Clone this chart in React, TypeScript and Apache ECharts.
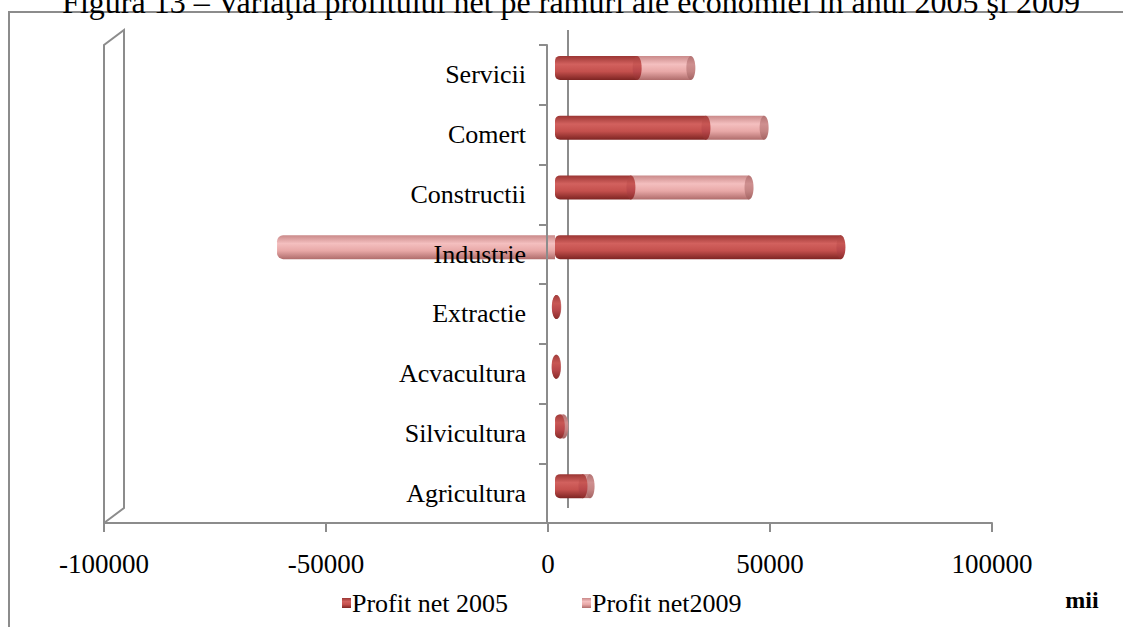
import React, { useEffect, useRef } from "react";
import * as echarts from "echarts";

const categories = ["Agricultura", "Silvicultura", "Acvacultura", "Extractie", "Industrie", "Constructii", "Comert", "Servicii"];
const profit2005 = [6300, 1200, 250, 300, 64400, 17100, 34000, 18500];
const profit2009 = [1600, 800, 100, 100, -62600, 26600, 13100, 12100];
const xTicks = { min: -100000, max: 100000, interval: 50000 };
const titleText = "Figura 13 – Variaţia profitului net pe ramuri ale economiei în anul 2005 şi 2009";
const unitText = "mii";

const SERIF = '"Liberation Serif", "Times New Roman", serif';
const GRAY = "#8c8c8c";

const grad = (stops: string[]) =>
  new echarts.graphic.LinearGradient(0, 0, 0, 1, [
    { offset: 0, color: stops[0] },
    { offset: 0.35, color: stops[1] },
    { offset: 0.65, color: stops[2] },
    { offset: 1, color: stops[3] },
  ]);

const g2005 = ["#9a3533", "#d2615e", "#c4504d", "#7e2523"];
const g2009 = ["#c98989", "#f4bfbf", "#e8a8a7", "#b06d6c"];

export default function App() {
  const ref = useRef<HTMLDivElement>(null);
  useEffect(() => {
    if (!ref.current) return;
    const chart = echarts.init(ref.current, undefined, { renderer: "svg" });

    const d2005 = profit2005.map((v) => ({
      value: v,
      itemStyle: { borderRadius: [5, 0, 0, 5] },
    }));
    const d2009 = profit2009.map((v) => ({
      value: v,
      itemStyle: { borderRadius: v < 0 ? [6, 0, 0, 6] : [0, 0, 0, 0] },
    }));
    // caps: [xEnd, catIndex, kind]
    const caps: number[][] = [];
    categories.forEach((_, i) => {
      const a = profit2005[i];
      const b = profit2009[i];
      if (b > 0) caps.push([a + b, i, 1]);
    });
    categories.forEach((_, i) => {
      caps.push([profit2005[i], i, 0]);
    });

    const gridBase = { containLabel: false, outerBoundsMode: "none" };

    chart.setOption({
      animation: false,
      grid: [
        { ...gridBase, left: 111, width: 888, top: 38, height: 478 },
        { ...gridBase, left: 104, width: 888, top: 45, height: 478 },
        { ...gridBase, left: 547, width: 100, top: 45, height: 478 },
      ],
      xAxis: [
        { gridIndex: 0, type: "value", ...xTicks, show: false },
        {
          gridIndex: 1,
          type: "value",
          ...xTicks,
          axisLine: { show: true, lineStyle: { color: GRAY, width: 2 } },
          axisTick: { show: true, length: 9, lineStyle: { color: GRAY, width: 2 } },
          splitLine: { show: false },
          axisLabel: {
            margin: 27,
            color: "#000",
            fontFamily: SERIF,
            fontSize: 27,
            formatter: (v: number) => String(v),
          },
        },
        { gridIndex: 2, type: "value", ...xTicks, show: false },
      ],
      yAxis: [
        { gridIndex: 0, type: "category", data: categories, show: false },
        { gridIndex: 1, type: "category", data: categories, show: false },
        {
          gridIndex: 2,
          type: "category",
          data: categories,
          z: 10,
          axisLine: { show: true, onZero: false, lineStyle: { color: GRAY, width: 2 } },
          axisTick: { show: true, length: 8, lineStyle: { color: GRAY, width: 2 } },
          axisLabel: { margin: 21, color: "#000", fontFamily: SERIF, fontSize: 26 },
        },
      ],
      legend: {
        data: ["Profit net 2005", "Profit net2009"],
        left: 337,
        top: 585,
        itemWidth: 9,
        itemHeight: 10,
        itemGap: 74,
        icon: "rect",
        textStyle: { fontFamily: SERIF, fontSize: 26, color: "#000", padding: [0, 0, 0, -4] },
      },
      series: [
        {
          name: "Profit net 2005",
          type: "bar",
          stack: "p",
          xAxisIndex: 0,
          yAxisIndex: 0,
          barWidth: 24,
          data: d2005,
          itemStyle: { color: grad(g2005) },
          z: 2,
        },
        {
          name: "Profit net2009",
          type: "bar",
          stack: "p",
          xAxisIndex: 0,
          yAxisIndex: 0,
          barWidth: 24,
          data: d2009,
          itemStyle: { color: grad(g2009) },
          z: 2,
        },
        {
          type: "custom",
          xAxisIndex: 0,
          yAxisIndex: 0,
          z: 3,
          data: caps,
          renderItem: (params: any, api: any) => {
            const p = api.coord([api.value(0), api.value(1)]);
            const kind = api.value(2);
            return {
              type: "ellipse",
              shape: { cx: p[0], cy: p[1], rx: 4.5, ry: 12 },
              style: {
                fill: kind === 0 ? grad(["#a23d3b", "#c85754", "#b8474a", "#8a2c2a"]) : grad(["#b37272", "#cf9090", "#c48483", "#a46463"]),
              },
            };
          },
        },
      ],
      graphic: [
        {
          type: "rect",
          shape: { x: 9, y: 12, width: 1130, height: 630 },
          style: { fill: "none", stroke: GRAY, lineWidth: 2 },
          silent: true,
        },
        {
          type: "text",
          x: 571,
          y: 18,
          style: {
            text: titleText,
            font: `32px ${SERIF}`,
            fill: "#000",
            textAlign: "center",
            textVerticalAlign: "bottom",
          },
        },
        {
          type: "polyline",
          shape: { points: [[104, 523], [104, 45], [124, 30], [124, 508], [104, 523]] },
          style: { fill: "none", stroke: GRAY, lineWidth: 2 },
        },
        {
          type: "line",
          shape: { x1: 568, y1: 30, x2: 568, y2: 508 },
          style: { stroke: GRAY, lineWidth: 2 },
        },
        {
          type: "text",
          x: 1082,
          y: 600,
          style: {
            text: unitText,
            font: `bold 24px ${SERIF}`,
            fill: "#000",
            textAlign: "center",
            textVerticalAlign: "middle",
          },
        },
      ],
    });
    return () => chart.dispose();
  }, []);
  return (
    <div
      ref={ref}
      style={{ position: "absolute", left: 0, top: 0, width: 1123, height: 627, background: "#fff" }}
    />
  );
}
